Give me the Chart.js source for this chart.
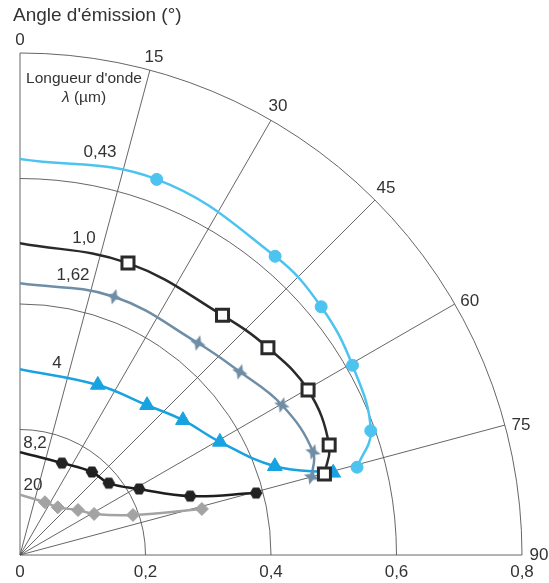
<!DOCTYPE html>
<html>
<head>
<meta charset="utf-8">
<script src="https://cdn.jsdelivr.net/npm/chart.js@4"></script>
<style>
  body { margin: 0; background: #fff; }
  #wrap { width: 549px; height: 583px; position: relative; }
</style>
</head>
<body>
<div id="wrap"><canvas id="polar"></canvas></div>
<script>
// angles in degrees from the vertical axis, radius in the chart's units
const seriesLabels = ['0,43', '1,0', '1,62', '4', '8,2', '20'];

const theta043 = [0, 20, 40.5, 50.5, 60.3, 70.5, 75.4];
const r043 = [0.631, 0.637, 0.626, 0.622, 0.610, 0.593, 0.555];

const theta10 = [0, 20.3, 40.2, 50.1, 60.2, 70.4, 75.1];
const r10 = [0.497, 0.496, 0.500, 0.515, 0.529, 0.523, 0.502];

const theta162 = [0, 20, 40, 50.2, 60.2, 70.6, 75];
const r162 = [0.433, 0.438, 0.441, 0.456, 0.481, 0.495, 0.481];

const theta4 = [0, 24.6, 40.3, 50.4, 60.5, 70.8, 75.3];
const r4 = [0.296, 0.298, 0.313, 0.337, 0.366, 0.430, 0.516];

const theta82 = [0, 24.5, 40.9, 51, 61, 70.9, 75.3];
const r82 = [0.164, 0.161, 0.175, 0.182, 0.217, 0.287, 0.389];

const theta20 = [0, 25.3, 38.4, 52.2, 61, 70.5, 75.8];
const r20 = [0.096, 0.093, 0.097, 0.117, 0.135, 0.191, 0.299];

const radialTicks = [0, 0.2, 0.4, 0.6, 0.8];
const gridRadii = [0.2, 0.4, 0.6, 0.8];
const angleTicks = [0, 15, 30, 45, 60, 75, 90];

const FONT = "'Liberation Sans', Arial, sans-serif";
const TXT = '#333';

// polar -> cartesian for the scatter scales
function toXY(thetas, radii) {
  return thetas.map((t, i) => {
    const a = t * Math.PI / 180;
    return { x: radii[i] * Math.sin(a), y: radii[i] * Math.cos(a) };
  });
}

function makeMarker(size, drawFn) {
  const c = document.createElement('canvas');
  c.width = size; c.height = size;
  const g = c.getContext('2d');
  drawFn(g, size / 2);
  return c;
}

const starMark = makeMarker(17, (g, m) => {
  g.fillStyle = '#6F8EA6';
  g.beginPath();
  for (let i = 0; i < 8; i++) {
    const a = i * Math.PI / 4 + 0.3;
    const rr = i % 2 === 0 ? 8 : 3.4;
    g.lineTo(m + rr * Math.sin(a), m - rr * Math.cos(a));
  }
  g.closePath();
  g.fill();
});

const hexMark = makeMarker(14, (g, m) => {
  g.fillStyle = '#222';
  g.beginPath();
  for (let i = 0; i < 6; i++) {
    const a = i * Math.PI / 3;
    g.lineTo(m + 6.3 * Math.cos(a), m + 6.3 * Math.sin(a));
  }
  g.closePath();
  g.fill();
});

const hide0 = (n, r) => Array.from({ length: n }, (_, i) => i === 0 ? 0 : r);

const datasets = [
  {
    label: seriesLabels[0], data: toXY(theta043, r043),
    borderColor: '#4DC3EF', backgroundColor: '#4DC3EF', borderWidth: 2.5,
    pointStyle: 'circle', pointRadius: hide0(theta043.length, 6)
  },
  {
    label: seriesLabels[1], data: toXY(theta10, r10),
    borderColor: '#2a2a2a', backgroundColor: '#fff', borderWidth: 2.5,
    pointStyle: 'rect', pointRadius: hide0(theta10.length, 8.5), pointBorderWidth: 3
  },
  {
    label: seriesLabels[2], data: toXY(theta162, r162),
    borderColor: '#6F8EA6', backgroundColor: '#6F8EA6', borderWidth: 2.5,
    pointStyle: starMark, pointRadius: hide0(theta162.length, 7)
  },
  {
    label: seriesLabels[3], data: toXY(theta4, r4),
    borderColor: '#18A3E0', backgroundColor: '#18A3E0', borderWidth: 2.5,
    pointStyle: 'triangle', pointRadius: hide0(theta4.length, 8.5)
  },
  {
    label: seriesLabels[4], data: toXY(theta82, r82),
    borderColor: '#1e1e1e', backgroundColor: '#1e1e1e', borderWidth: 2.5,
    pointStyle: hexMark, pointRadius: hide0(theta82.length, 6)
  },
  {
    label: seriesLabels[5], data: toXY(theta20, r20),
    borderColor: '#A3A3A3', backgroundColor: '#A3A3A3', borderWidth: 2.5,
    pointStyle: 'rectRot', pointRadius: hide0(theta20.length, 6.5)
  }
].map(d => Object.assign({ showLine: true, tension: 0.4, pointBorderWidth: d.pointBorderWidth || 1, pointBorderColor: d.borderColor, pointBackgroundColor: d.backgroundColor }, d));

// where the wavelength tags sit (pixels)
const tagPos = [[100, 152], [84, 238], [73, 275], [57, 363], [35, 443], [33, 485]];
// offsets of angle labels from the end of each spoke
const angleOffsets = [[0, -13], [4, -13], [7, -14], [11, -12], [15, -3], [16, 0], [17, 0]];

const polarGrid = {
  id: 'polarGrid',
  beforeDatasetsDraw(chart) {
    const { ctx, scales: { x, y } } = chart;
    const cx = x.getPixelForValue(0), cy = y.getPixelForValue(0);
    const ux = x.getPixelForValue(1) - cx, uy = cy - y.getPixelForValue(1);
    ctx.save();
    ctx.strokeStyle = '#555';
    ctx.lineWidth = 0.9;
    gridRadii.forEach(r => {
      ctx.beginPath();
      ctx.ellipse(cx, cy, r * ux, r * uy, 0, -Math.PI / 2, 0);
      ctx.stroke();
    });
    const R = gridRadii[gridRadii.length - 1];
    angleTicks.forEach(a => {
      const t = a * Math.PI / 180;
      ctx.beginPath();
      ctx.moveTo(cx, cy);
      ctx.lineTo(x.getPixelForValue(R * Math.sin(t)), y.getPixelForValue(R * Math.cos(t)));
      ctx.stroke();
    });
    ctx.restore();
  },
  afterDraw(chart) {
    const { ctx, scales: { x, y } } = chart;
    const R = gridRadii[gridRadii.length - 1];
    ctx.save();
    ctx.fillStyle = TXT;
    ctx.textBaseline = 'middle';

    ctx.font = '19px ' + FONT;
    ctx.textAlign = 'left';
    ctx.fillText("Angle d'émission (°)", 13, 16);

    ctx.font = '17px ' + FONT;
    ctx.textAlign = 'center';
    angleTicks.forEach((a, i) => {
      const t = a * Math.PI / 180;
      const [dx, dy] = angleOffsets[i];
      ctx.fillText(String(a), x.getPixelForValue(R * Math.sin(t)) + dx, y.getPixelForValue(R * Math.cos(t)) + dy);
    });

    seriesLabels.forEach((s, i) => {
      ctx.fillText(s, tagPos[i][0], tagPos[i][1]);
    });

    ctx.font = '15.5px ' + FONT;
    ctx.fillText("Longueur d'onde", 84, 79);
    ctx.font = 'italic 15.5px ' + FONT;
    const wl = ctx.measureText('λ').width;
    ctx.font = '15.5px ' + FONT;
    const wr = ctx.measureText(' (µm)').width;
    const left = 84 - (wl + wr) / 2;
    ctx.textAlign = 'left';
    ctx.font = 'italic 15.5px ' + FONT;
    ctx.fillText('λ', left, 98);
    ctx.font = '15.5px ' + FONT;
    ctx.fillText(' (µm)', left + wl, 98);
    ctx.restore();
  }
};

new Chart(document.getElementById('polar'), {
  type: 'scatter',
  data: { datasets },
  options: {
    responsive: true,
    maintainAspectRatio: false,
    animation: false,
    layout: { padding: { left: 20, right: 27, top: 53, bottom: 0 } },
    plugins: { legend: { display: false }, tooltip: { enabled: false } },
    scales: {
      x: {
        type: 'linear', min: 0, max: 0.8,
        grid: { display: false, drawTicks: false, tickLength: 0 },
        border: { display: false },
        afterBuildTicks: axis => { axis.ticks = radialTicks.map(v => ({ value: v })); },
        afterFit: axis => { axis.height = 28; },
        ticks: {
          padding: 7, color: TXT, font: { size: 17, family: FONT },
          callback: v => String(v).replace('.', ',')
        }
      },
      y: { type: 'linear', min: 0, max: 0.8, display: false }
    }
  },
  plugins: [polarGrid]
});
</script>
</body>
</html>
